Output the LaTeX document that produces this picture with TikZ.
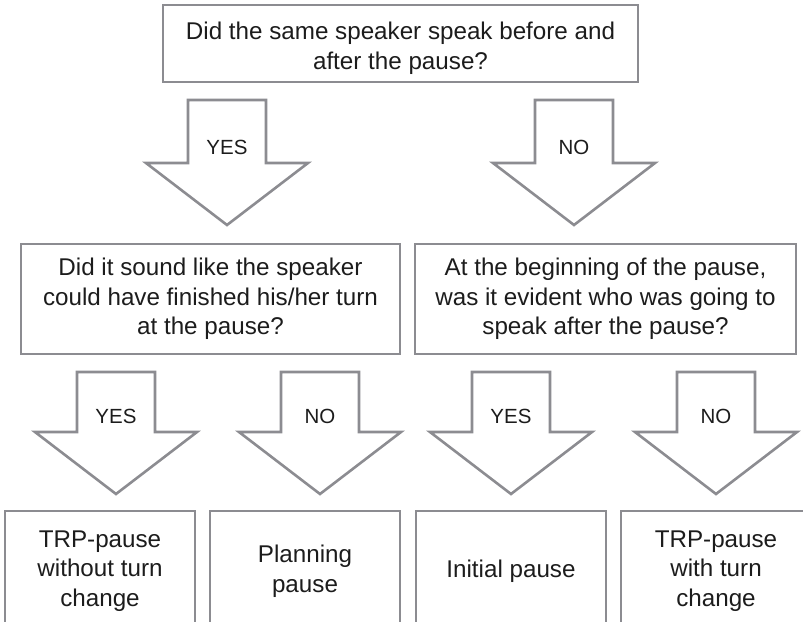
\documentclass[tikz,border=0pt]{standalone}
\usepackage{fontspec}
\setmainfont{Liberation Sans}
\definecolor{edgegray}{RGB}{140,140,145}
\definecolor{inkgray}{RGB}{28,28,28}
\tikzset{
  box/.style={draw=edgegray, line width=2.6pt, rectangle, align=center,
    text=inkgray, font=\fontsize{24.2}{29.5}\selectfont, inner sep=0pt},
  txt/.style={align=center, text=inkgray, font=\fontsize{24.2}{29.5}\selectfont, inner sep=0pt},
  lbl/.style={text=inkgray, font=\fontsize{20.5}{24}\selectfont, inner sep=0pt},
  % hollow block arrow pointing down: #1 label, #2 depth of the shaft
  pics/blockarrow/.style 2 args={code={
    \draw[draw=edgegray, line width=2.6pt, line join=miter]
      (-39,0) -- (-39,#2) -- (-81,#2) -- (0,#2+62) -- (81,#2) -- (39,#2) -- (39,0) -- cycle;
    \node[lbl] (-l) at (0,#2-16) {#1};
  }}
}
\begin{document}
\begin{tikzpicture}[x=1pt,y=-1pt]
\useasboundingbox (0,0) rectangle (803,621);

% question boxes
\node[box, minimum width=475pt, minimum height=77pt] (q1) at (400.5,43.5) {};
\node[txt] (q1t) at (400.5,48)
  {Did the same speaker speak before and\\after the pause?};
\node[box, minimum width=379pt, minimum height=110pt] (q2) at (210.5,299)
  {Did it sound like the speaker\\could have finished his/her turn\\at the pause?};
\node[box, minimum width=381pt, minimum height=110pt] (q3) at (605.5,299)
  {At the beginning of the pause,\\was it evident who was going to\\speak after the pause?};

% outcome boxes (their lower edges run past the page)
\node[box, minimum width=190pt, minimum height=120pt] (r1) at (100,571)
  {TRP-pause\\without turn\\change};
\node[box, minimum width=190pt, minimum height=120pt] (r2) at (305,571)
  {Planning\\pause};
\node[box, minimum width=190pt, minimum height=120pt] (r3) at (511,571)
  {Initial pause};
\node[box, minimum width=190pt, minimum height=120pt] (r4) at (716,571)
  {TRP-pause\\with turn\\change};

% decision arrows
\pic (a1) at (227,100) {blockarrow={YES}{63}};
\pic (a2) at (574,100) {blockarrow={NO}{63}};
\pic (a3) at (116,372) {blockarrow={YES}{60}};
\pic (a4) at (320,372) {blockarrow={NO}{60}};
\pic (a5) at (511,372) {blockarrow={YES}{60}};
\pic (a6) at (716,372) {blockarrow={NO}{60}};
\end{tikzpicture}
\end{document}
